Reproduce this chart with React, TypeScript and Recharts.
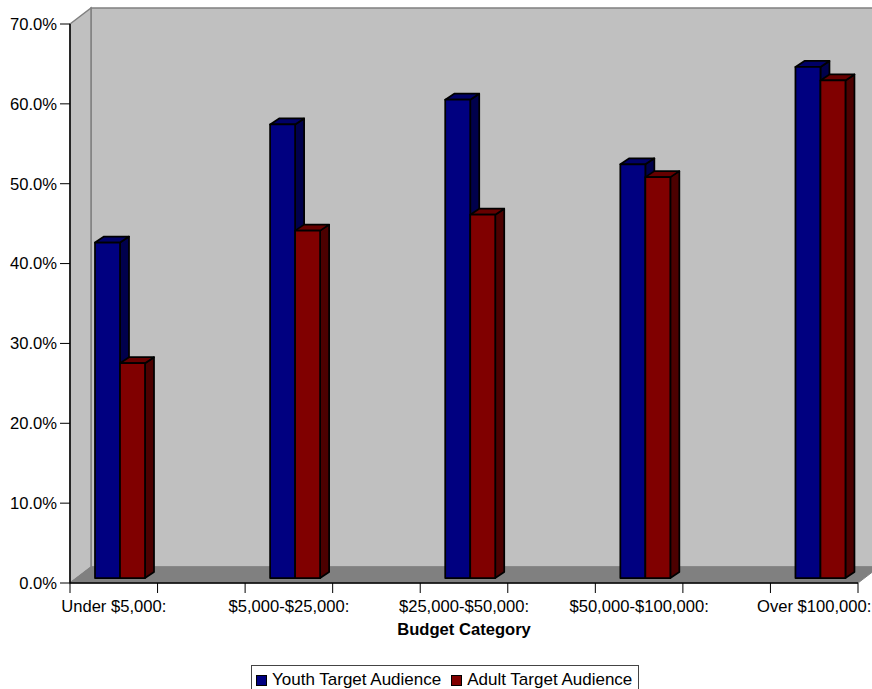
import React from "react";
import { BarChart, Bar, XAxis, YAxis, Legend, usePlotArea } from "recharts";

// Nine bands: every other one is an empty spacer between budget groups.
const categories = [
  "Under $5,000:", "", "$5,000-$25,000:", "", "$25,000-$50,000:", "",
  "$50,000-$100,000:", "", "Over $100,000:",
];
const youthValues = [42, null, 56.8, null, 59.9, null, 51.8, null, 64];
const adultValues = [26.9, null, 43.5, null, 45.5, null, 50.2, null, 62.3];
const percentTicks = [0, 10, 20, 30, 40, 50, 60, 70];

const rows = categories.map((name, i) => ({ name, youth: youthValues[i], adult: adultValues[i] }));

const FONT = "'Liberation Sans', Arial, sans-serif";
const FONT_SIZE = 16.6;
const LEGEND_FONT_SIZE = 17;
const WIDTH = 872;
const HEIGHT = 689;
const MARGIN = { top: 24, right: 14, left: 0, bottom: 76 };
const AXIS_W = 70;
const AXIS_H = 30;
const BAND = (WIDTH - MARGIN.right - AXIS_W) / categories.length;

// Oblique projection of the chart box and of each column inside it
const WALL_DX = 21;
const WALL_DY = 16;
const COL_SHIFT_X = 6;
const COL_SHIFT_Y = 5;
const COL_DX = 9;
const COL_DY = 6;

const pts = (list: number[][]) => list.map((p) => p.join(",")).join(" ");

function ChartBox() {
  const area = usePlotArea();
  if (!area) return null;
  const { x, y, width, height } = area;
  const r = x + width;
  const b = y + height;
  const grey = "#808080";
  return (
    <g>
      <rect x={x + WALL_DX} y={y - WALL_DY} width={width} height={height} fill="#c0c0c0" stroke={grey} strokeWidth={1.5} />
      <polygon
        points={pts([[x, y], [x + WALL_DX, y - WALL_DY], [x + WALL_DX, b - WALL_DY], [x, b]])}
        fill="#c0c0c0" stroke={grey} strokeWidth={1.5}
      />
      <polygon
        points={pts([[x, b], [x + WALL_DX, b - WALL_DY], [r + WALL_DX, b - WALL_DY], [r, b]])}
        fill={grey} stroke={grey} strokeWidth={1}
      />
    </g>
  );
}

function column(sideFill: string, topFill: string) {
  return (props: any) => {
    const { x, y, width, height, fill } = props;
    if (!height || height <= 0) return <g />;
    const l = x + COL_SHIFT_X;
    const r = l + width;
    const t = y - COL_SHIFT_Y;
    const b = t + height;
    const outline = { stroke: "#000", strokeWidth: 1.75, strokeLinejoin: "round" as const };
    return (
      <g>
        <polygon points={pts([[r, t], [r + COL_DX, t - COL_DY], [r + COL_DX, b - COL_DY], [r, b]])} fill={sideFill} {...outline} />
        <polygon points={pts([[l, t], [l + COL_DX, t - COL_DY], [r + COL_DX, t - COL_DY], [r, t]])} fill={topFill} {...outline} />
        <rect x={l} y={t} width={width} height={height} fill={fill} {...outline} />
      </g>
    );
  };
}

function CategoryTick(props: any) {
  const { x, y, payload, index } = props;
  const left = x - BAND / 2;
  const right = x + BAND / 2;
  return (
    <g>
      <line x1={left} x2={left} y1={y} y2={y + 10} stroke="#000" />
      {index === categories.length - 1 && <line x1={right} x2={right} y1={y} y2={y + 10} stroke="#000" />}
      <text x={x} y={y + 29} textAnchor="middle" fontFamily={FONT} fontSize={FONT_SIZE} fill="#000">
        {payload.value}
      </text>
    </g>
  );
}

function LegendBox(props: any) {
  const items = props.payload || [];
  return (
    <div
      style={{
        boxSizing: "border-box", width: 388, height: 40, border: "1px solid #444", background: "#fff",
        display: "flex", alignItems: "flex-start", paddingLeft: 4, paddingTop: 5,
        fontFamily: FONT, fontSize: LEGEND_FONT_SIZE, lineHeight: "18px", color: "#000", whiteSpace: "nowrap",
      }}
    >
      {items.map((item: any) => (
        <span key={item.value} style={{ display: "inline-flex", alignItems: "center", marginRight: 10 }}>
          <span style={{ boxSizing: "border-box", width: 11, height: 11, background: item.color, border: "1px solid #000", marginRight: 5 }} />
          {item.value}
        </span>
      ))}
    </div>
  );
}

export default function App() {
  return (
    <div style={{ position: "absolute", left: 0, top: 0, width: WIDTH, height: HEIGHT, overflow: "hidden", background: "#fff" }}>
      <BarChart width={WIDTH} height={HEIGHT} data={rows} margin={MARGIN} barSize={25} barGap={0}>
        <ChartBox />
        <XAxis
          dataKey="name"
          interval={0}
          height={AXIS_H}
          axisLine={{ stroke: "#000", strokeWidth: 1.5 }}
          tickLine={false}
          tickSize={0}
          tickMargin={0}
          tick={<CategoryTick />}
          label={{ value: "Budget Category", position: "insideBottom", offset: -22, fontFamily: FONT, fontSize: FONT_SIZE, fontWeight: 700, fill: "#000" }}
        />
        <YAxis
          width={AXIS_W}
          domain={[0, 70]}
          ticks={percentTicks}
          interval={0}
          tickSize={10}
          tickMargin={3}
          tickFormatter={(v: number) => `${v.toFixed(1)}%`}
          axisLine={{ stroke: "#000", strokeWidth: 1.5 }}
          tickLine={{ stroke: "#000" }}
          tick={{ fontFamily: FONT, fontSize: FONT_SIZE, fill: "#000" }}
        />
        <Bar dataKey="youth" name="Youth Target Audience" fill="#000080" isAnimationActive={false} shape={column("#00004c", "#000066")} />
        <Bar dataKey="adult" name="Adult Target Audience" fill="#800000" isAnimationActive={false} shape={column("#4c0000", "#660000")} />
        <Legend
          layout="horizontal"
          verticalAlign="middle"
          itemSorter={null}
          content={<LegendBox />}
          wrapperStyle={{ left: 251, top: 665, width: 388, height: 40, bottom: "auto", right: "auto" }}
        />
      </BarChart>
    </div>
  );
}
